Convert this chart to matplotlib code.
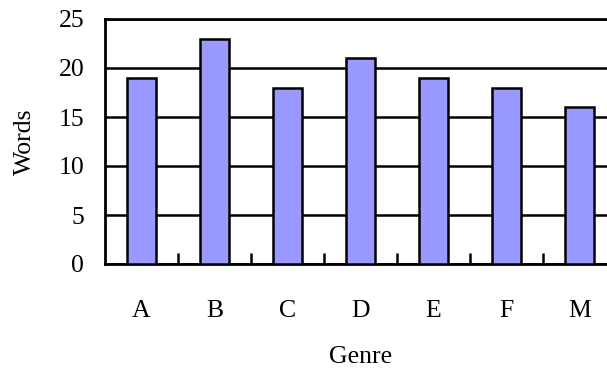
import matplotlib
matplotlib.use("Agg")
import matplotlib.pyplot as plt
import numpy as np

categories = ["A", "B", "C", "D", "E", "F", "M"]
values = [19, 23, 18, 21, 19, 18, 16]
yticks = [0, 5, 10, 15, 20, 25]

plt.rcParams['font.family'] = ['Liberation Serif', 'DejaVu Serif']

fig = plt.figure(figsize=(6.07, 3.72), dpi=100)
ax = fig.add_axes([105/607, 108/372, 511/607, 245/372])

x = np.arange(len(categories))
ax.bar(x, values, width=0.41, color="#9999FF", edgecolor="black", linewidth=1.8, zorder=3)

ax.set_xlim(-0.5, len(categories) - 0.5)
ax.set_ylim(0, 25)
ax.set_yticks(yticks)
ax.yaxis.grid(True, color="black", linewidth=1.8, zorder=1)
ax.set_axisbelow(True)
ax.tick_params(axis='y', length=0, pad=15, labelsize=18.5)

ax.set_xticks(x)
ax.set_xticklabels(categories)
ax.tick_params(axis='x', which='major', length=0, pad=26, labelsize=18.5)
ax.set_xticks(np.arange(0.5, len(categories) - 0.5, 1), minor=True)
ax.tick_params(axis='x', which='minor', direction='in', length=8, width=1.8)

for s in ax.spines.values():
    s.set_linewidth(2)

ax.set_xlabel("Genre", fontsize=18.5, labelpad=17)
ax.set_ylabel("Words", fontsize=18.5, labelpad=16)

fig.savefig("out.png", dpi=100)
